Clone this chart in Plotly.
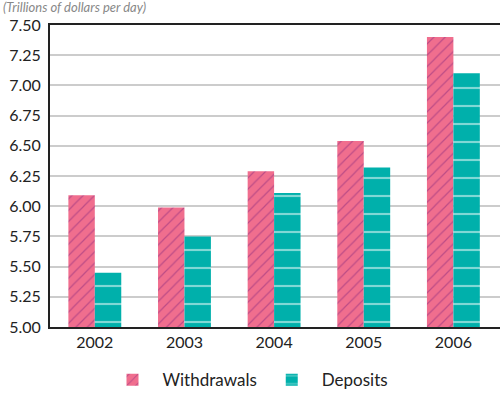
import plotly.graph_objects as go

years = ["2002", "2003", "2004", "2005", "2006"]
withdrawals = [6.09, 5.99, 6.29, 6.54, 7.40]
deposits = [5.45, 5.75, 6.11, 6.32, 7.10]
y_ticks = [5.00, 5.25, 5.50, 5.75, 6.00, 6.25, 6.50, 6.75, 7.00, 7.25, 7.50]

fig = go.Figure()
fig.add_trace(go.Bar(
    x=years, y=withdrawals, name="Withdrawals",
    marker=dict(color="#F06E8E", line=dict(width=0),
                pattern=dict(shape="/", fgcolor="#8A2A7E", size=8, solidity=0.15)),
))
fig.add_trace(go.Bar(
    x=years, y=deposits, name="Deposits",
    marker=dict(color="#00B0AB", line=dict(width=0),
                pattern=dict(shape="-", fgcolor="#FFFFFF", size=18, solidity=0.12)),
))

fig.update_layout(
    width=500, height=394,
    margin=dict(l=50, r=0, t=25, b=67),
    barmode="group", bargap=0.41, bargroupgap=0,
    plot_bgcolor="white", paper_bgcolor="white",
    font=dict(family="Lato, Open Sans, sans-serif", size=16, color="#222222"),
    showlegend=True,
    legend=dict(orientation="h", x=0.44, xanchor="center", xref="paper",
                y=0.035, yref="container", yanchor="middle",
                font=dict(size=17), itemwidth=50, traceorder="normal"),
    xaxis=dict(showline=True, linecolor="#222222", linewidth=2, mirror=True,
               ticks="", tickfont=dict(size=16), range=[-0.5, 4.52]),
    yaxis=dict(range=[5.0, 7.5], tickvals=y_ticks,
               ticktext=[f"{v:.2f}" for v in y_ticks],
               showline=True, linecolor="#222222", linewidth=2,
               showgrid=True, gridcolor="#CCCCCC", gridwidth=1.5,
               ticks="", ticklabelstandoff=4, tickfont=dict(size=16), zeroline=False),
    annotations=[dict(text="<i>(Trillions of dollars per day)</i>", xref="paper", yref="paper",
                      x=-0.11, y=1.058, xanchor="left", yanchor="middle", showarrow=False,
                      font=dict(size=13, color="#888888", family="Lato, sans-serif"),
                      )],
)

fig.write_html("out.html")
